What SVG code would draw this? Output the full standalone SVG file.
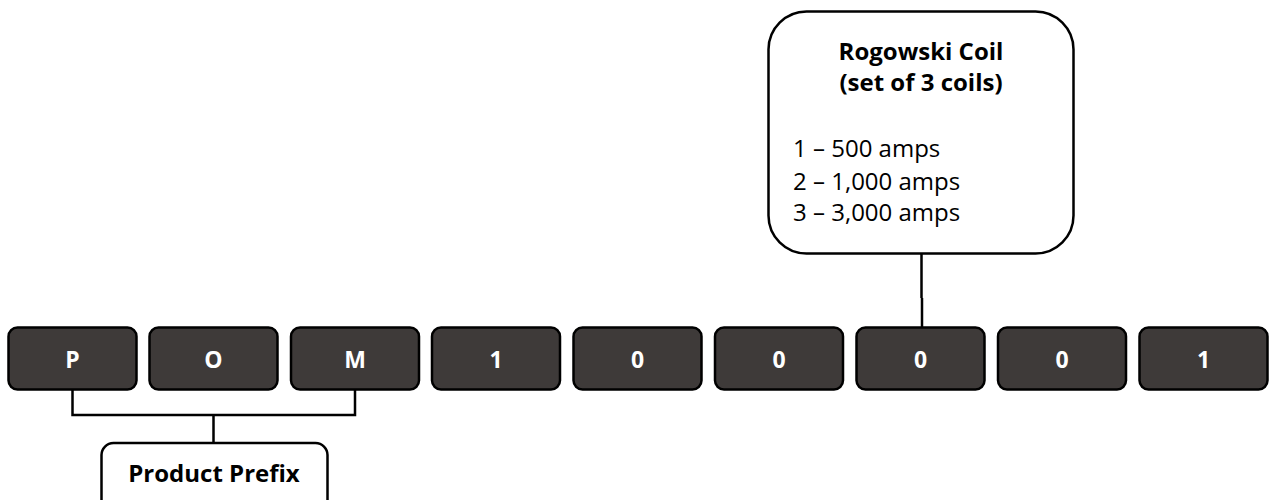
<svg xmlns="http://www.w3.org/2000/svg" width="1269" height="500" viewBox="0 0 1269 500">
<style>
.key{fill:#3e3a39;stroke:#000;stroke-width:2.5}
.kt{font-family:"Open Sans",sans-serif;font-weight:bold;font-size:23px;fill:#fff;text-anchor:middle}
.lbl{fill:#fff;stroke:#000;stroke-width:2.5}
.b{font-family:"Open Sans",sans-serif;font-weight:bold;font-size:24px;fill:#000;text-anchor:middle}
.r{font-family:"Open Sans",sans-serif;font-size:24px;fill:#000}
.c{fill:none;stroke:#000;stroke-width:2.5}
</style>
<g id="connectors">
<path class="c" d="M72.5,390 V415 H355 V390 M213.5,415 V443"/>
<path class="c" d="M921.5,253 V298 M922,298 V327"/>
</g>
<g id="rogowski">
<rect class="lbl" x="768.5" y="11.5" width="305" height="242" rx="38"/>
<text class="b" x="921" y="60">Rogowski Coil</text>
<text class="b" x="921" y="91">(set of 3 coils)</text>
<text class="r" x="793" y="157">1 – 500 amps</text>
<text class="r" x="793" y="190">2 – 1,000 amps</text>
<text class="r" x="793" y="221">3 – 3,000 amps</text>
</g>
<g id="prefix">
<rect class="lbl" x="101.5" y="443" width="226" height="70" rx="12"/>
<text class="b" x="214" y="482">Product Prefix</text>
</g>
<g id="k1"><rect class="key" x="8.5" y="327.5" width="128" height="62" rx="9"/><text class="kt" x="72.5" y="368">P</text></g>
<g id="k2"><rect class="key" x="149.5" y="327.5" width="128" height="62" rx="9"/><text class="kt" x="213.5" y="368">O</text></g>
<g id="k3"><rect class="key" x="291" y="327.5" width="128" height="62" rx="9"/><text class="kt" x="355" y="368">M</text></g>
<g id="k4"><rect class="key" x="432" y="327.5" width="128" height="62" rx="9"/><text class="kt" x="496" y="368">1</text></g>
<g id="k5"><rect class="key" x="573.5" y="327.5" width="128" height="62" rx="9"/><text class="kt" x="637.5" y="368">0</text></g>
<g id="k6"><rect class="key" x="715" y="327.5" width="128" height="62" rx="9"/><text class="kt" x="779" y="368">0</text></g>
<g id="k7"><rect class="key" x="856.5" y="327.5" width="128" height="62" rx="9"/><text class="kt" x="920.5" y="368">0</text></g>
<g id="k8"><rect class="key" x="998" y="327.5" width="128" height="62" rx="9"/><text class="kt" x="1062" y="368">0</text></g>
<g id="k9"><rect class="key" x="1139.5" y="327.5" width="128" height="62" rx="9"/><text class="kt" x="1203.5" y="368">1</text></g>
</svg>
